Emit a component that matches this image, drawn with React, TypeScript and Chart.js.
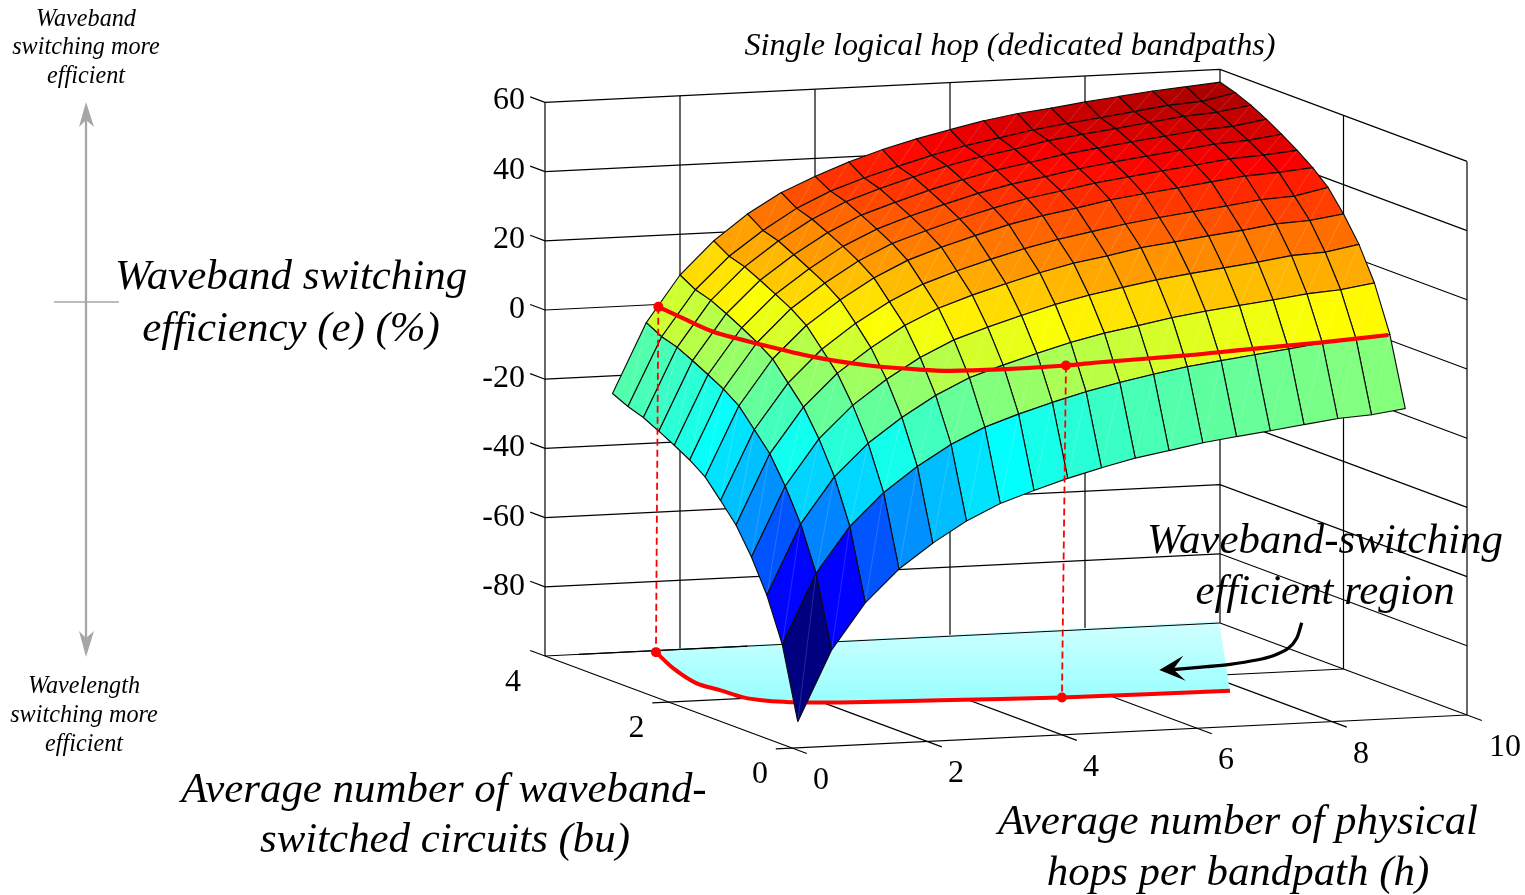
import React, { useEffect, useRef } from "react";
import { Chart, registerables } from "chart.js";

Chart.register(...registerables);

// ---------- data ----------
const hValues = [1, 1.5, 2, 2.5, 3, 3.5, 4, 4.5, 5, 5.5, 6, 6.5, 7, 7.5, 8, 8.5, 9, 9.5, 10];
const buValues = [1, 1.25, 1.5, 1.75, 2, 2.25, 2.5, 2.75, 3, 3.25, 3.5, 3.75, 4];

const zBu100 = [-100, -79.8, -66.6, -57.3, -50.3, -44.4, -39.8, -36.5, -33.5, -30.9, -28.6, -26.9, -25.1, -23.8, -22.6, -21.3, -20, -19.4, -18.1];
const zBu125 = [-79.4, -59.3, -46.2, -36.9, -29.8, -23.9, -19.4, -16.1, -13.2, -10.6, -8.4, -6.5, -4.8, -3.5, -2.3, -1.1, 0.2, 0.8, 1.7];
const zBu150 = [-66.8, -46.7, -33.5, -24.3, -17.3, -11.4, -6.8, -3.6, -0.7, 2, 4.2, 5.9, 7.7, 9.1, 10.3, 11.4, 12.7, 13.4, 14.9];
const zBu175 = [-57.4, -37.4, -24.2, -15, -8, -2.1, 2.5, 5.7, 8.6, 11.3, 13.5, 15.3, 17, 18.3, 19.5, 20.7, 22.1, 22.6, 24.4];
const zBu200 = [-49.8, -29.7, -16.7, -7.4, -0.5, 5.5, 10, 13.3, 16.1, 18.8, 21.1, 22.7, 24.6, 25.8, 27.1, 28.2, 29.6, 30.1, 31.5];
const zBu225 = [-44.4, -24.4, -11.4, -2.1, 4.9, 10.7, 15.3, 18.6, 21.5, 24.1, 26.3, 28.1, 29.8, 31.2, 32.4, 33.6, 34.9, 35.5, 37.5];
const zBu250 = [-39.2, -19.2, -6.1, 3.1, 10, 15.9, 20.5, 23.8, 26.7, 29.4, 31.5, 33.2, 35.1, 36.4, 37.6, 38.9, 40.1, 40.7, 41.6];
const zBu275 = [-36, -16, -3, 6.3, 13.2, 19.1, 23.7, 26.9, 29.9, 32.5, 34.8, 36.5, 38.3, 39.6, 40.9, 42.1, 43.4, 44, 44.9];
const zBu300 = [-33.4, -13.5, -0.4, 8.8, 15.7, 21.7, 26.2, 29.5, 32.4, 35.1, 37.3, 39, 40.8, 42.2, 43.5, 44.7, 46, 46.6, 47.9];
const zBu325 = [-31, -11.1, 2, 11.2, 18.1, 24, 28.6, 31.8, 34.8, 37.4, 39.7, 41.4, 43.3, 44.6, 45.9, 47.1, 48.4, 49, 50.6];
const zBu350 = [-28.7, -8.9, 4.2, 13.4, 20.4, 26.2, 30.8, 34.1, 37, 39.7, 41.9, 43.6, 45.6, 46.9, 48.1, 49.4, 50.7, 51.4, 53];
const zBu375 = [-27.2, -7.5, 5.6, 14.8, 21.8, 27.7, 32.2, 35.5, 38.4, 41.1, 43.4, 45.2, 47, 48.4, 49.6, 50.9, 52.2, 52.9, 54.9];
const zBu400 = [-25.1, -5.1, 8.2, 17.6, 24.9, 30.6, 34.8, 38.5, 41.6, 44.2, 46.4, 48.5, 50.1, 51.2, 52.5, 53.6, 54.7, 55.5, 56.3];
const surfaceZ = [zBu100, zBu125, zBu150, zBu175, zBu200, zBu225, zBu250, zBu275, zBu300, zBu325, zBu350, zBu375, zBu400];

// break-even curve on the surface (z = 0) and its shadow on the floor (z = -100)
const curveH = [1.595, 1.514, 1.437, 1.596, 1.865, 2.271, 2.816, 3.166, 3.871, 4.872, 5.431, 6.753, 7.859, 9.003, 10.164];
const curveBu = [3.908, 3.415, 2.844, 2.316, 1.694, 1.273, 1.006, 0.902, 0.863, 0.889, 0.949, 1.045, 1.173, 1.291, 1.454];
const shadowH = [1.589, 1.244, 1.023, 1.092, 1.141, 1.327, 1.586, 2.228, 3.613, 5.31, 7.748];
const shadowBu = [3.94, 3.281, 2.662, 2.36, 2.036, 1.86, 1.766, 1.658, 1.553, 1.433, 1.377];
const regionCornerH = [10.06, 1.62];
const regionCornerBu = [4.08, 4.03];
const dashedFromCurve = [0, 9];
const dashedToShadow = [0, 9];

const zTicks = [60, 40, 20, 0, -20, -40, -60, -80];
const hTicks = [0, 2, 4, 6, 8, 10];
const buTicks = [0, 2, 4];

// annotation arrows, in the page scale of the chart
const grayShaftX = [86, 86];
const grayShaftY = [118, 640];
const grayTickX = [54, 119];
const grayTickY = [302, 302];
const grayTopHeadX = [86, 94, 86, 79];
const grayTopHeadY = [102, 127, 120, 127];
const grayBottomHeadX = [86, 94, 86, 79];
const grayBottomHeadY = [657, 631, 638, 631];
const blackArrowX = [1301.7, 1296.7, 1288.3, 1273.3, 1256.7, 1230, 1206.7, 1168];
const blackArrowY = [622.7, 638.3, 648.3, 655.7, 660, 664.3, 666.7, 670];
const blackHeadX = [1159.3, 1183.3, 1173.3, 1185.7];
const blackHeadY = [670, 655.7, 669.3, 680.7];

const SERIF = '"Liberation Serif", "Times New Roman", serif';
type Lab = { t: string; x: number; y: number; size: number; italic?: boolean; color?: string };
const textLabels: Lab[] = [
  { t: "Single logical hop (dedicated bandpaths)", x: 1010, y: 54.5, size: 32.2, italic: true },
  { t: "Waveband switching", x: 291, y: 289, size: 42.9, italic: true },
  { t: "efficiency (e) (%)", x: 291, y: 341, size: 42.9, italic: true },
  { t: "Average number of waveband-", x: 444, y: 802, size: 42.9, italic: true },
  { t: "switched circuits (bu)", x: 445, y: 852, size: 42.9, italic: true },
  { t: "Average number of physical", x: 1238, y: 834, size: 42.9, italic: true },
  { t: "hops per bandpath (h)", x: 1238, y: 885, size: 42.9, italic: true },
  { t: "Waveband-switching", x: 1325, y: 553, size: 42.9, italic: true },
  { t: "efficient region", x: 1325, y: 604, size: 42.9, italic: true },
  { t: "Waveband", x: 86, y: 26, size: 24.2, italic: true },
  { t: "switching more", x: 86, y: 54, size: 24.2, italic: true },
  { t: "efficient", x: 86, y: 83, size: 24.2, italic: true },
  { t: "Wavelength", x: 84, y: 693, size: 24.2, italic: true },
  { t: "switching more", x: 84, y: 722, size: 24.2, italic: true },
  { t: "efficient", x: 84, y: 751, size: 24.2, italic: true },
];

// ---------- projection of the 3-D axes onto the page scale ----------
const project = (h: number, b: number, z: number) => ({
  x: 792 + 67.5 * h - 61.75 * b,
  y: 748 - 3.3 * h - 23 * b - 3.46 * (z + 100),
});

const jet = (t: number) => {
  const c = (v: number) => Math.round(255 * Math.max(0, Math.min(1, v)));
  const r = c(Math.min(4 * t - 1.5, -4 * t + 4.5));
  const g = c(Math.min(4 * t - 0.5, -4 * t + 3.5));
  const b = c(Math.min(4 * t + 0.5, -4 * t + 2.5));
  return `rgb(${r},${g},${b})`;
};
const colorOf = (z: number) => jet((z + 100) / 160);

const line = (data: { x: number; y: number }[], extra: any = {}) => ({
  data,
  showLine: true,
  borderColor: "#000",
  borderWidth: 1.2,
  pointRadius: 0,
  tension: 0,
  clip: false,
  ...extra,
});
const zip = (xs: number[], ys: number[]) => xs.map((x, i) => ({ x, y: ys[i] }));

function buildDatasets() {
  const list: any[] = [];
  const TICK = 0.24;
  // back and side walls
  for (const z of zTicks) {
    list.push(line([project(0, 4 + TICK, z), project(0, 4, z), project(10, 4, z), project(10, 0, z)]));
  }
  for (const h of [0, 2, 4, 6, 8, 10]) {
    list.push(line([project(h, 4, -100), project(h, 4, 60)]));
  }
  list.push(line([project(10, 2, -100), project(10, 2, 60)]));
  list.push(line([project(10, 0, -100), project(10, 0, 60)]));
  // floor
  for (const h of hTicks) {
    list.push(line([project(h, 4, -100), project(h, -TICK, -100)]));
  }
  for (const b of [0, 2]) {
    list.push(line([project(-TICK, b, -100), project(10, b, -100)]));
  }
  // shaded region on the floor
  const shadow = shadowH.map((h, i) => project(h, shadowBu[i], -100));
  const region = [...shadow, ...regionCornerH.map((h, i) => project(h, regionCornerBu[i], -100))];
  list.push(line(region, { borderWidth: 0, polyFill: "region" }));
  list.push(line(shadow, { borderColor: "#ff0000", borderWidth: 4, tension: 0.3 }));
  list.push(line([project(0, 4 + TICK, -100), project(0, 4, -100), project(10, 4, -100)]));
  // surface, far cells first
  for (let j = buValues.length - 2; j >= 0; j--) {
    for (let i = hValues.length - 2; i >= 0; i--) {
      const a = project(hValues[i], buValues[j], surfaceZ[j][i]);
      const b = project(hValues[i + 1], buValues[j], surfaceZ[j][i + 1]);
      const c = project(hValues[i + 1], buValues[j + 1], surfaceZ[j + 1][i + 1]);
      const d = project(hValues[i], buValues[j + 1], surfaceZ[j + 1][i]);
      list.push(line([a, b, c, d, a], { polyFill: colorOf(surfaceZ[j][i]), diagonal: true, borderColor: "#0c0c0c", borderWidth: 1.15 }));
    }
  }
  // the back edge of the floor stays visible over the tip of the surface
  list.push(line([project(0.5, 4, -100), project(3, 4, -100)]));
  // break-even curve
  const curve = curveH.map((h, i) => project(h, curveBu[i], 0));
  dashedFromCurve.forEach((k, n) => {
    list.push(line([curve[k], shadow[dashedToShadow[n]]], { borderColor: "#ff0000", borderWidth: 1.8, borderDash: [7, 4] }));
  });
  list.push(line(curve, { borderColor: "#ff0000", borderWidth: 4.2, tension: 0.3 }));
  list.push({
    data: [curve[0], curve[9], shadow[0], shadow[9]],
    showLine: false,
    pointRadius: 5,
    pointBackgroundColor: "#ff0000",
    pointBorderWidth: 0,
    clip: false,
  });
  // annotation arrows
  const gray = "#a6a6a6";
  list.push(line(zip(grayShaftX, grayShaftY), { borderColor: gray, borderWidth: 2.3 }));
  list.push(line(zip(grayTickX, grayTickY), { borderColor: gray, borderWidth: 1.4 }));
  list.push(line(zip(grayTopHeadX, grayTopHeadY), { borderWidth: 0, polyFill: gray }));
  list.push(line(zip(grayBottomHeadX, grayBottomHeadY), { borderWidth: 0, polyFill: gray }));
  list.push(line(zip(blackArrowX, blackArrowY), { borderWidth: 3.3, tension: 0.3 }));
  list.push(line(zip(blackHeadX, blackHeadY), { borderWidth: 0, polyFill: "#000" }));
  list.forEach((d, idx) => (d.order = list.length - idx));
  return list;
}

const polygonPlugin = {
  id: "polygons",
  beforeDatasetDraw(chart: any, args: any) {
    const ds = chart.data.datasets[args.index];
    if (!ds.polyFill) return;
    const pts = chart.getDatasetMeta(args.index).data;
    const ctx = chart.ctx;
    ctx.save();
    ctx.beginPath();
    pts.forEach((p: any, i: number) => (i ? ctx.lineTo(p.x, p.y) : ctx.moveTo(p.x, p.y)));
    ctx.closePath();
    if (ds.polyFill === "region") {
      const g = ctx.createLinearGradient(0, chart.scales.y.getPixelForValue(620), 0, chart.scales.y.getPixelForValue(700));
      g.addColorStop(0, "#d2ffff");
      g.addColorStop(1, "#99ffff");
      ctx.fillStyle = g;
    } else {
      ctx.fillStyle = ds.polyFill;
    }
    ctx.fill();
    if (ds.diagonal) {
      ctx.strokeStyle = "rgba(255,255,255,0.22)";
      ctx.lineWidth = 0.7;
      ctx.beginPath();
      ctx.moveTo(pts[0].x, pts[0].y);
      ctx.lineTo(pts[2].x, pts[2].y);
      ctx.stroke();
    }
    ctx.restore();
  },
  afterDraw(chart: any) {
    const ctx = chart.ctx;
    const sx = chart.scales.x;
    const sy = chart.scales.y;
    const put = (l: Lab, align: CanvasTextAlign = "center") => {
      ctx.font = `${l.italic ? "italic " : ""}${l.size}px ${SERIF}`;
      ctx.textAlign = align;
      ctx.textBaseline = "alphabetic";
      ctx.fillStyle = "#000";
      ctx.fillText(l.t, sx.getPixelForValue(l.x), sy.getPixelForValue(l.y));
    };
    ctx.save();
    zTicks.forEach((z) => {
      const p = project(0, 4, z);
      put({ t: String(z), x: p.x - 20, y: p.y + 7 + (60 - z) * 0.01, size: 32 }, "right");
    });
    hTicks.forEach((h) => {
      const p = project(h, 0, -100);
      put({ t: String(h), x: p.x + (h === 10 ? 38 : 29), y: p.y + 41, size: 32 });
    });
    buTicks.forEach((b) => {
      const p = project(0, b, -100);
      put({ t: String(b), x: p.x - 32, y: p.y + 35, size: 32 });
    });
    textLabels.forEach((l) => put(l));
    ctx.restore();
  },
};

export default function App() {
  const ref = useRef<HTMLCanvasElement | null>(null);
  useEffect(() => {
    if (!ref.current) return;
    const chart = new Chart(ref.current, {
      type: "scatter",
      data: { datasets: buildDatasets() },
      options: {
        animation: false,
        responsive: false,
        maintainAspectRatio: false,
        layout: { padding: 0, autoPadding: false },
        plugins: { legend: { display: false }, tooltip: { enabled: false }, title: { display: false } },
        scales: {
          x: { type: "linear", min: 0, max: 1525, display: false },
          y: { type: "linear", min: 0, max: 895, reverse: true, display: false },
        },
      },
      plugins: [polygonPlugin],
    } as any);
    return () => chart.destroy();
  }, []);
  return (
    <canvas
      ref={ref}
      width={1525}
      height={895}
      style={{ position: "absolute", left: 0, top: 0, width: 1525, height: 895, background: "#fff" }}
    />
  );
}
